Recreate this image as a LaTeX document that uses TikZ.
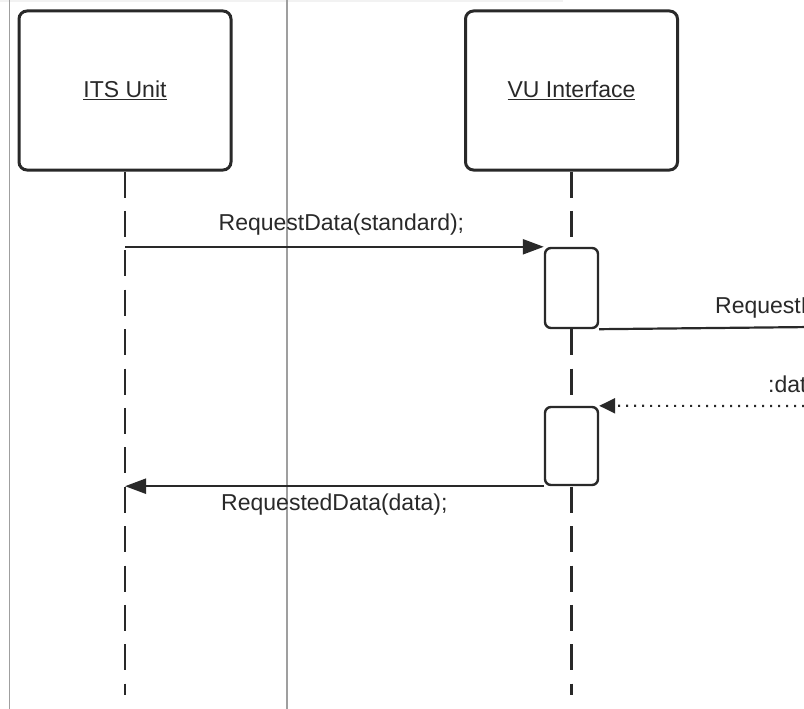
\documentclass[tikz,border=0pt]{standalone}
\usepackage{fontspec}
\setmainfont{Liberation Sans}
\usepackage{tikz}
\usetikzlibrary{arrows.meta,positioning}
\definecolor{ink}{gray}{0.16}
\tikzset{
  actor/.style={draw=ink, fill=white, rounded corners=8pt, line width=3pt,
                minimum width=212pt, minimum height=159pt, inner sep=0pt,
                text=ink},
  lifeline/.style={draw=ink, line width=2.6pt,
                   dash pattern=on 26pt off 13.4pt},
  activation/.style={draw=ink, fill=white, rounded corners=6pt, line width=2.4pt,
                     minimum width=53pt, inner sep=0pt},
  msg/.style={draw=ink, line width=2.2pt, -{Triangle[length=21pt,width=15pt]}},
  call/.style={draw=ink, line width=2.2pt},
  reply/.style={draw=ink, line width=2.2pt, dash pattern=on 2pt off 6pt,
                -{Triangle[length=16pt,width=15pt]}},
  mlab/.style={text=ink, inner sep=0pt},
  frame/.style={draw=gray!75, line width=1.4pt},
}
\begin{document}
\begin{tikzpicture}[x=1pt, y=-1pt, font=\fontsize{23}{27}\selectfont]

\clip (0,0) rectangle (804,709);
\fill[white] (0,0) rectangle (804,709);

% page borders of the source
\fill[gray!10] (0,0) rectangle (563,2);
\draw[frame] (9.5,0) -- (9.5,709);
\draw[frame] (287,0) -- (287,709);

% actors
\node[actor] (its) at (125,90.5) {\raisebox{3pt}{\underline{ITS Unit}}};
\node[actor] (vu) at (571.5,90.5) {\raisebox{3pt}{\underline{VU Interface}}};

\coordinate (its-end) at (125,695);
\draw[lifeline] (its.south) -- (its-end);
\draw[lifeline] (vu.south) -- (vu |- its-end);

% activations
\node[activation, minimum height=80pt] (act1) at (571.5,288) {};
\node[activation, minimum height=78pt] (act2) at (571.5,446) {};

\coordinate (out1) at (812,327);
\coordinate (in1) at (812,406);

% messages
\draw[msg] (its |- act1.north west) -- (act1.north west)
  node[mlab, midway, above=10pt, xshift=7pt] (m1) {RequestData(standard);};
\draw[call] (act1.south east) -- (out1);
\node[mlab, anchor=base west] (m2) at (715,313) {RequestData};
\draw[reply] (in1) -- (act2.north east);
\node[mlab, anchor=base west] (m3) at (768,392) {:data};
\draw[msg] (act2.south west) -- (its |- act2.south west)
  node[mlab, midway, below=7pt] (m4) {RequestedData(data);};

\end{tikzpicture}
\end{document}
